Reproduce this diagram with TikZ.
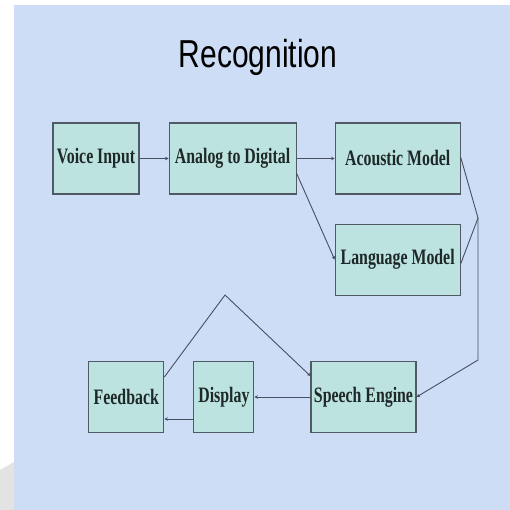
\documentclass[tikz,border=0pt]{standalone}
\usepackage{fontspec}
\setmainfont{Liberation Serif}
\newfontfamily\titlefont[FakeStretch=0.77]{Liberation Sans}
\newfontfamily\boxfont[FakeStretch=0.72]{Liberation Serif}
\usetikzlibrary{positioning,arrows.meta}
\definecolor{slidebg}{RGB}{205,221,245}
\definecolor{boxfill}{RGB}{188,227,224}
\definecolor{boxline}{RGB}{80,90,100}
\definecolor{wire}{RGB}{70,80,95}
\definecolor{ink}{RGB}{30,40,40}

\begin{document}
\begin{tikzpicture}[
    x=1pt, y=-1pt,
    block/.style = {draw=boxline, line width=1.1pt, fill=boxfill, text=ink,
      font=\boxfont\fontsize{22}{24}\selectfont\bfseries, inner sep=0pt,
      minimum height=71pt},
    link/.style = {draw=wire, line width=0.9pt,
      -{Stealth[length=3.5pt,width=3.5pt]}},
    plain/.style = {draw=wire, line width=0.9pt}
  ]
  \fill[white] (0,0) rectangle (510,510);
  \fill[slidebg] (14,5) rectangle (510,510);
  \fill[gray!22] (0,470) -- (14,462) -- (14,510) -- (0,510) -- cycle;
  \useasboundingbox (0,0) rectangle (510,510);

  \node (title) at (258,57) {\titlefont\fontsize{39}{42}\selectfont Recognition};

  \node [block, minimum width=86pt] (voice) at (96,158.5) {Voice Input};
  \node [block, minimum width=127pt, right=29pt of voice] (adc) {Analog to Digital};
  \node [block, minimum width=125pt, right=38pt of adc] (acoustic) {Acoustic Model};
  \node [block, minimum width=125pt, below=29pt of acoustic] (language) {Language Model};
  \node [block, minimum width=105pt] (speech) at (363.5,397) {Speech Engine};
  \node [block, minimum width=60pt, left=56pt of speech] (display) {Display};
  \node [block, minimum width=75pt, left=29pt of display] (feedback) {Feedback};

  \coordinate (join) at (478,218);
  \coordinate (bend) at (478,360);
  \coordinate (peak) at (225,295);

  \draw [link] (voice) -- (adc);
  \draw [link] (adc) -- (acoustic);
  \draw [link] ([yshift=-15pt]adc.east) -- (language.west);
  \draw [plain] ([yshift=1pt]acoustic.east) -- (join);
  \draw [plain] ([yshift=-4pt]language.east) -- (join);
  \draw [link] (join) -- (bend) -- (speech.east);
  \draw [link] (speech.west) -- (display.east);
  \draw [link] ([yshift=-22pt]display.west) -- ([yshift=-22pt]feedback.east);
  \draw [link] ([yshift=20pt]feedback.east) -- (peak) -- ([yshift=21pt]speech.west);
\end{tikzpicture}
\end{document}
